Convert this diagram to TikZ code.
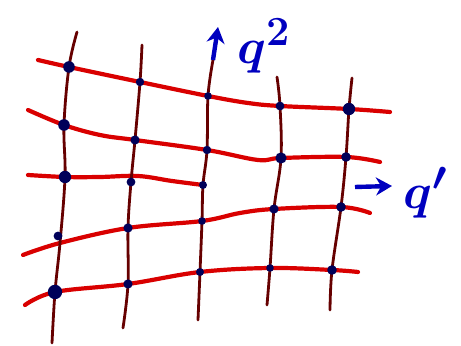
\documentclass[tikz,border=0pt]{standalone}
\usetikzlibrary{arrows.meta}
\begin{document}
\begin{tikzpicture}[x=0.5pt,y=-0.5pt,
 hline/.style={draw=red!85!black,line width=2.1pt,line cap=round},
 vline/.style={draw=red!40!black,line width=1.4pt,line cap=round},
 dot/.style={fill=blue!35!black},
 qarrow/.style={draw=blue!75!black,line width=2.2pt,-{Stealth[length=8pt,width=9pt]}},
 qlabel/.style={text=blue!75!black,font=\fontsize{30}{32}\selectfont\boldmath,inner sep=0pt}]
 \useasboundingbox (0,0) rectangle (461,346);
 % grid crossings, column/row
 \coordinate (c11) at (69,67);  \coordinate (c21) at (140,82);  \coordinate (c31) at (208,96);
 \coordinate (c41) at (280,106); \coordinate (c51) at (349,109);
 \coordinate (c12) at (64,125); \coordinate (c22) at (135,140); \coordinate (c32) at (207,150);
 \coordinate (c42) at (281,158); \coordinate (c52) at (346,157);
 \coordinate (c13) at (65,177); \coordinate (c23) at (131,182); \coordinate (c33) at (203,185);
 \coordinate (c14) at (60,243); \coordinate (c24) at (128,228); \coordinate (c34) at (202,221);
 \coordinate (c44) at (274,209); \coordinate (c54) at (341,207);
 \coordinate (c15) at (55,292); \coordinate (c25) at (128,284); \coordinate (c35) at (200,272);
 \coordinate (c45) at (270,268); \coordinate (c55) at (332,270);
 % ends of the strokes
 \coordinate (v1t) at (77,32);  \coordinate (v1b) at (52,343);
 \coordinate (v2t) at (142,45); \coordinate (v2b) at (123,328);
 \coordinate (v3t) at (213,60); \coordinate (v3b) at (198,320);
 \coordinate (v4t) at (277,77); \coordinate (v4b) at (267,305);
 \coordinate (v5t) at (352,78); \coordinate (v5b) at (330,310);
 \coordinate (up) at (218,27);
 \coordinate (rt0) at (355,187); \coordinate (rt) at (392,186);

 \draw[hline] plot[smooth,tension=0.6] coordinates {(38,60) (c11) (c21) (c31) (248,103) (c41) (c51) (390,112)};
 \draw[hline] plot[smooth,tension=0.6] coordinates {(28,110) (c12) (100,135) (c22) (c32) (258,160) (c42) (c52) (380,162)};
 \draw[hline] plot[smooth,tension=0.6] coordinates {(28,175) (c13) (100,177) (138,176) (172,181) (c33)};
 \draw[hline] plot[smooth,tension=0.6] coordinates {(23,255) (c14) (c24) (c34) (240,213) (c44) (c54) (370,213)};
 \draw[hline] plot[smooth,tension=0.6] coordinates {(25,305) (c15) (c25) (c35) (c45) (c55) (358,272)};

 \draw[vline] plot[smooth,tension=0.6] coordinates {(v1t) (c11) (c12) (c13) (c14) (c15) (v1b)};
 \draw[vline] plot[smooth,tension=0.6] coordinates {(v2t) (c21) (c22) (c23) (c24) (c25) (v2b)};
 \draw[vline] plot[smooth,tension=0.6] coordinates {(v3t) (c31) (c32) (c33) (c34) (c35) (v3b)};
 \draw[vline] plot[smooth,tension=0.6] coordinates {(v4t) (c41) (c42) (c44) (c45) (v4b)};
 \draw[vline] plot[smooth,tension=0.6] coordinates {(v5t) (c51) (c52) (c54) (c55) (v5b)};

 \foreach \p/\r in {c11/2.9,c12/2.9,c13/3.1,c15/3.6,c21/2.1,c22/2.3,c23/2.2,c24/2.3,c25/2.3,
   c31/1.9,c32/2.1,c33/2.0,c34/1.9,c35/2.0,c41/2.2,c42/2.8,c44/2.3,c45/1.9,
   c51/3.1,c52/2.4,c54/2.4,c55/2.4}
  \fill[dot] (\p) circle (\r pt);
 \fill[dot] (58,236) circle (2.2pt);

 \draw[qarrow] (v3t) -- (up);
 \node[qlabel] (q2) at (264,46) {$q^2$};
 \draw[qarrow] (rt0) -- (rt);
 \node[qlabel] (q1) at (426,193) {$q'$};
\end{tikzpicture}
\end{document}
